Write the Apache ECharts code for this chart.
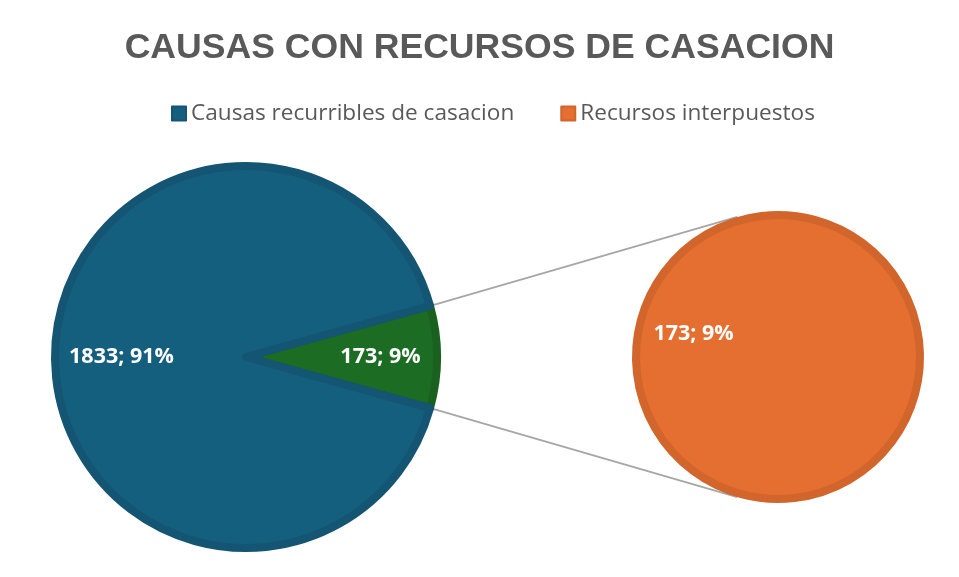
<!DOCTYPE html>
<html>
<head>
<meta charset="utf-8">
<title>Causas con recursos de casacion</title>
<script src="https://cdn.jsdelivr.net/npm/echarts@6/dist/echarts.min.js"></script>
<style>
    html, body { margin: 0; padding: 0; background: #fff; }
    #chart { width: 959px; height: 577px; }
</style>
</head>
<body>
<div id="chart"></div>
<script>
    // datos del grafico
    var titulo = 'CAUSAS CON RECURSOS DE CASACION';
    var nombres = ['Causas recurribles de casacion', 'Recursos interpuestos'];
    var valores = [1833, 173];
    var colores = ['#155f7e', '#e46f31', '#1d6c24'];
    var bordes = ['#135572', '#d1652b', '#1a6120'];

    var total = valores[0] + valores[1];
    function pct(v) {
        return Math.round(v / total * 100) + '%';
    }

    // geometria de las dos tortas
    var c1 = [246, 357], r1 = 191;
    var c2 = [778, 357], r2 = 142;
    var bw = 8;

    // la porcion verde queda centrada sobre el eje horizontal
    var ang = valores[1] / total * 360;
    var start = ang / 2;

    // lineas de union: desde los bordes de la porcion hasta las tangentes del circulo derecho
    function tangente(p, signo) {
        var dx = p[0] - c2[0], dy = p[1] - c2[1];
        var d = Math.sqrt(dx * dx + dy * dy);
        var R = r2 + bw / 2;
        var th = Math.atan2(dy, dx) + signo * Math.acos(R / d);
        return [c2[0] + R * Math.cos(th), c2[1] + R * Math.sin(th)];
    }
    var R1 = r1 + bw / 2;
    var a = start * Math.PI / 180;
    var pSup = [c1[0] + R1 * Math.cos(a), c1[1] - R1 * Math.sin(a)];
    var pInf = [c1[0] + R1 * Math.cos(a), c1[1] + R1 * Math.sin(a)];
    var tSup = tangente(pSup, 1);
    var tInf = tangente(pInf, -1);

    var etiqueta = {
        show: true,
        position: 'inside',
        color: '#fff',
        fontSize: 21.5,
        fontWeight: 'bold',
        fontFamily: 'Open Sans, sans-serif'
    };

    var myChart = echarts.init(document.getElementById('chart'));
    myChart.setOption({
        animation: false,
        title: {
            text: titulo,
            left: 'center',
            top: 25,
            padding: [5, 0, 5, 20],
            textStyle: {
                color: '#595959',
                fontSize: 35.6,
                fontWeight: 'bold',
                fontFamily: 'Liberation Sans, Arial, sans-serif'
            }
        },
        legend: {
            data: nombres,
            top: 97,
            left: 166,
            icon: 'rect',
            itemWidth: 14,
            itemHeight: 14,
            itemGap: 46,
            textStyle: {
                color: '#595959',
                fontSize: 22.6,
                fontFamily: 'Open Sans, sans-serif'
            }
        },
        graphic: [
            {
                type: 'line',
                z: -1,
                shape: { x1: pSup[0], y1: pSup[1], x2: tSup[0], y2: tSup[1] },
                style: { stroke: '#a6a6a6', lineWidth: 1.8 }
            },
            {
                type: 'line',
                z: -1,
                shape: { x1: pInf[0], y1: pInf[1], x2: tInf[0], y2: tInf[1] },
                style: { stroke: '#a6a6a6', lineWidth: 1.8 }
            }
        ],
        series: [
            {
                type: 'pie',
                center: c1,
                radius: r1,
                startAngle: start,
                clockwise: true,
                label: etiqueta,
                labelLine: { show: false },
                emphasis: { disabled: true },
                data: [
                    {
                        name: 'Recursos',
                        value: valores[1],
                        itemStyle: { color: colores[2], borderColor: bordes[2], borderWidth: bw },
                        label: { offset: [36, 0], formatter: valores[1] + '; ' + pct(valores[1]) }
                    },
                    {
                        name: nombres[0],
                        value: valores[0],
                        itemStyle: { color: colores[0], borderColor: bordes[0], borderWidth: bw },
                        label: { offset: [-26, 0], formatter: valores[0] + '; ' + pct(valores[0]) }
                    }
                ]
            },
            {
                type: 'pie',
                center: c2,
                radius: r2,
                startAngle: -15,
                label: etiqueta,
                labelLine: { show: false },
                emphasis: { disabled: true },
                data: [
                    {
                        name: nombres[1],
                        value: valores[1],
                        itemStyle: { color: colores[1], borderColor: bordes[1], borderWidth: bw },
                        label: { offset: [-13, -4], formatter: valores[1] + '; ' + pct(valores[1]) }
                    }
                ]
            }
        ]
    });
</script>
</body>
</html>
